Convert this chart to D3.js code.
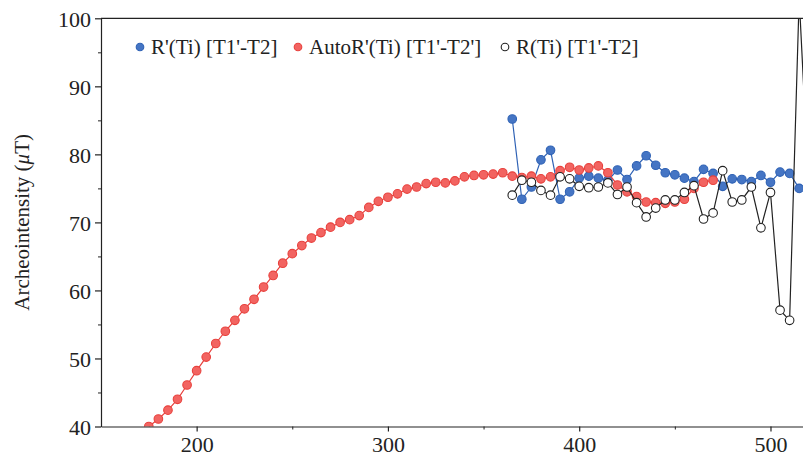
<!DOCTYPE html>
<html>
<head>
<meta charset="utf-8">
<script src="https://cdn.jsdelivr.net/npm/d3@7"></script>
<style>
  body { margin: 0; background: #fff; }
  svg { display: block; font-family: "Liberation Serif", "DejaVu Serif", serif; }
</style>
</head>
<body>
<div id="chart_container"></div>
<script>
// temperature steps (every 5 degrees)
const autoTemps = d3.range(175, 471, 5);
const autoValues = [
  40.0, 41.1, 42.4, 44.0, 46.1, 48.2, 50.2, 52.2, 54.0, 55.6,
  57.3, 58.7, 60.5, 62.2, 64.0, 65.4, 66.6, 67.7, 68.5, 69.3,
  70.0, 70.4, 71.0, 72.2, 73.1, 73.7, 74.2, 74.9, 75.2, 75.7,
  75.9, 75.8, 76.1, 76.7, 76.9, 77.0, 77.1, 77.3, 76.8, 76.6,
  76.8, 76.4, 76.7, 77.6, 78.1, 77.7, 78.0, 78.3, 77.3, 75.5,
  74.5, 73.8, 73.0, 72.9, 72.8, 73.0, 73.4, 75.0, 75.9, 76.2
];

const primeTemps = d3.range(365, 516, 5);
const primeValues = [
  85.2, 73.4, 75.2, 79.2, 80.6, 73.4, 74.5, 76.5, 76.8, 76.5,
  76.2, 77.7, 76.3, 78.3, 79.8, 78.4, 77.3, 77.0, 76.5, 76.0,
  77.8, 77.2, 75.3, 76.4, 76.3, 76.0, 76.9, 75.9, 77.4, 77.2,
  75.0
];

const rawTemps = d3.range(365, 521, 5);
const rawValues = [
  74.0, 76.2, 75.9, 74.7, 74.0, 76.7, 76.4, 75.3, 75.1, 75.2,
  75.8, 74.1, 75.2, 72.9, 70.8, 72.1, 73.3, 73.3, 74.4, 75.4,
  70.5, 71.4, 77.6, 73.0, 73.3, 75.2, 69.2, 74.4, 57.1, 55.6,
  103.0, 75.0
];

const xTicks = [200, 300, 400, 500];
const yTicks = [40, 50, 60, 70, 80, 90, 100];

const legendItems = [
  { label: "R'(Ti) [T1'-T2]", fill: "#4575c4", stroke: "#2f62b5" },
  { label: "AutoR'(Ti) [T1'-T2']", fill: "#f26461", stroke: "#e8413d" },
  { label: "R(Ti) [T1'-T2]", fill: "#ffffff", stroke: "#222222" }
];

function renderChart() {
  const width = 803, height = 458;
  const plot = { left: 101, top: 18.3, right: 803, bottom: 426.5 };

  const svg = d3.select("#chart_container")
    .append("svg")
    .attr("width", width)
    .attr("height", height);

  const x = d3.scaleLinear().domain([150, 517]).range([plot.left, plot.right]);
  const y = d3.scaleLinear().domain([40, 100]).range([plot.bottom, plot.top]);

  svg.append("clipPath").attr("id", "plot_clip")
    .append("rect")
    .attr("x", plot.left).attr("y", plot.top)
    .attr("width", plot.right - plot.left + 20)
    .attr("height", plot.bottom - plot.top);

  const series = [
    { temps: autoTemps, values: autoValues, style: legendItems[1] },
    { temps: primeTemps, values: primeValues, style: legendItems[0] },
    { temps: rawTemps, values: rawValues, style: legendItems[2] }
  ];
  // blue first, red next, black hollow on top
  const drawOrder = [series[1], series[0], series[2]];

  const area = svg.append("g").attr("clip-path", "url(#plot_clip)");
  const line = d3.line().x(d => x(d[0])).y(d => y(d[1]));

  drawOrder.forEach(s => {
    const pts = s.temps.map((t, i) => [t, s.values[i]]);
    area.append("path")
      .datum(pts)
      .attr("d", line)
      .attr("fill", "none")
      .attr("stroke", s.style.stroke)
      .attr("stroke-width", 1.2);
    area.selectAll(null)
      .data(pts)
      .enter()
      .append("circle")
      .attr("cx", d => x(d[0]))
      .attr("cy", d => y(d[1]))
      .attr("r", 4.3)
      .attr("fill", s.style.fill)
      .attr("stroke", s.style.stroke)
      .attr("stroke-width", 1.1);
  });

  // axes
  const xAxis = svg.append("g")
    .attr("transform", `translate(0,${plot.bottom})`)
    .call(d3.axisBottom(x).tickValues(xTicks).tickSize(5).tickSizeOuter(0));
  svg.append("g")
    .attr("transform", `translate(0,${plot.bottom})`)
    .call(d3.axisBottom(x).tickValues([250, 350, 450]).tickSize(3).tickFormat(""))
    .call(g => g.select(".domain").remove());

  const yAxis = svg.append("g")
    .attr("transform", `translate(${plot.left},0)`)
    .call(d3.axisLeft(y).tickValues(yTicks).tickSize(6).tickSizeOuter(0));
  svg.append("g")
    .attr("transform", `translate(${plot.left},0)`)
    .call(d3.axisLeft(y).tickValues([45, 55, 65, 75, 85, 95]).tickSize(3).tickFormat(""))
    .call(g => g.select(".domain").remove());

  [xAxis, yAxis].forEach(g => {
    g.selectAll("path, line").attr("stroke", "#222").attr("stroke-width", 1.2);
    g.selectAll("text")
      .attr("fill", "#222")
      .style("font-family", "'Liberation Serif', serif")
      .style("font-size", "22px");
  });
  xAxis.selectAll("text").attr("y", 8).attr("dy", "0.78em");
  yAxis.selectAll("text").attr("x", -10).attr("dy", "0.35em");
  svg.selectAll(".tick line").attr("stroke", "#222");

  // top frame line
  svg.append("line")
    .attr("x1", plot.left).attr("x2", plot.right)
    .attr("y1", plot.top).attr("y2", plot.top)
    .attr("stroke", "#222").attr("stroke-width", 1.2);

  // y label
  const yLabel = svg.append("text")
    .attr("transform", `translate(29,${(plot.top + plot.bottom) / 2}) rotate(-90)`)
    .attr("text-anchor", "middle")
    .style("font-size", "21px")
    .attr("fill", "#222");
  yLabel.append("tspan").text("Archeointensity (");
  yLabel.append("tspan").style("font-style", "italic").text("\u03bc");
  yLabel.append("tspan").text("T)");

  // legend
  const legendX = [140, 298, 505];
  const legend = svg.append("g");
  legendItems.forEach((item, i) => {
    legend.append("circle")
      .attr("cx", legendX[i]).attr("cy", 47)
      .attr("r", 3.8)
      .attr("fill", item.fill)
      .attr("stroke", item.stroke)
      .attr("stroke-width", 1.1);
    legend.append("text")
      .attr("x", legendX[i] + 11).attr("y", 53.5)
      .style("font-size", "21px")
      .attr("fill", "#222")
      .text(item.label);
  });
}

renderChart();
</script>
</body>
</html>
